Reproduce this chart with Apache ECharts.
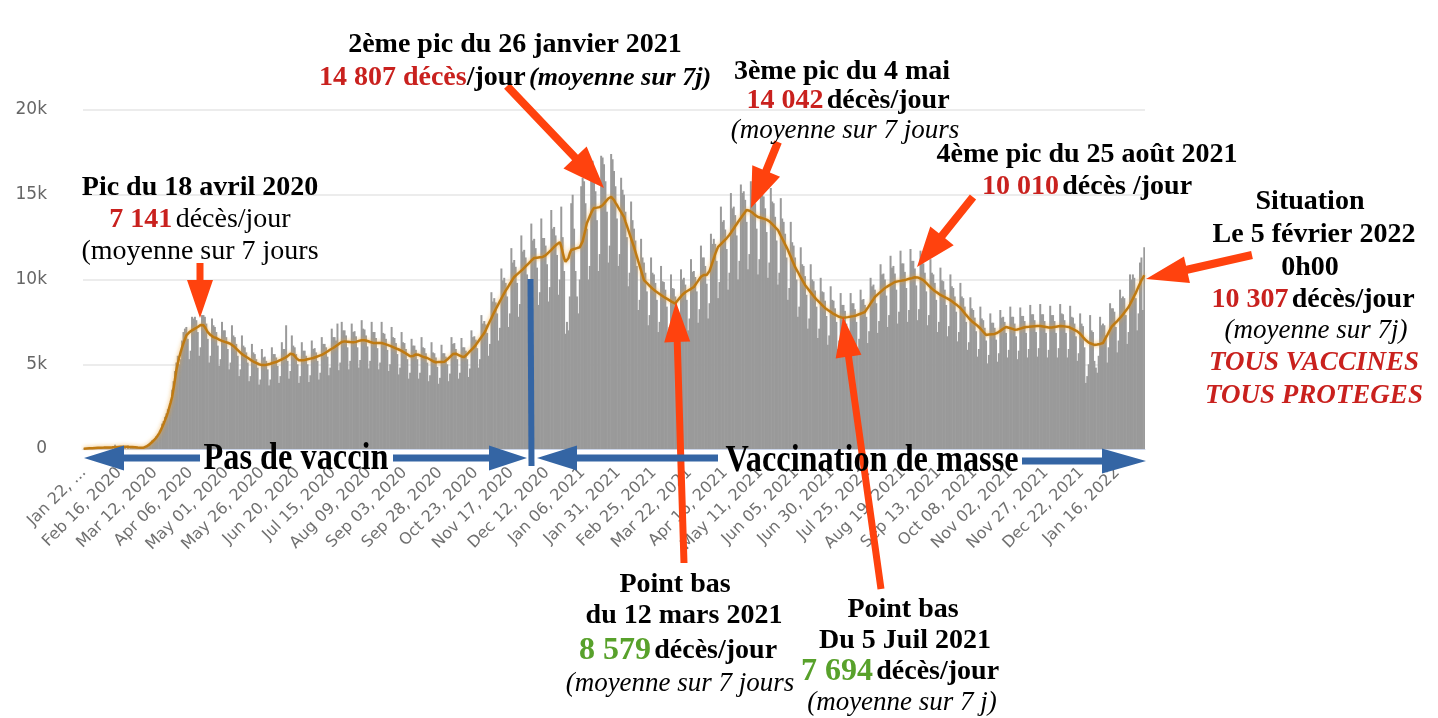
<!DOCTYPE html>
<html>
<head>
<meta charset="utf-8">
<script src="https://cdn.jsdelivr.net/npm/echarts@6/dist/echarts.min.js"></script>
<style>
  html, body { margin: 0; padding: 0; background: #fff; }
  #chart { width: 1438px; height: 718px; }
</style>
</head>
<body>
<div id="chart"></div>
<script>
// décès quotidiens dans le monde (22 janv. 2020 -> 4 févr. 2022)
const daily2020 = [
  17,1,8,16,14,26,49, 2,38,42,46,103,64,66, 72,70,85,87,100,107,100, 5,253,152,143,104,98,139,
  115,125,4,207,11,160,79, 62,44,56,64,57,68,73, 84,96,180,260,320,420,520, 560,650,760,880,900,1150,1500,
  1650,1900,2100,2350,2300,2700,3500, 4000,4600,5100,5500,5000,5300,6400, 6900,7100,7200,6500,5300,5800,7800,
  7700,7800,7600,6900,5500,6000,7900, 7900,7800,7400,6500,5100,5500,7700, 7300,7200,6900,6100,4900,5300,7500,
  7000,7000,6600,5900,4700,5100,7300, 6700,6600,6200,5500,4300,4700,6700, 6100,6000,5700,5100,4000,4300,6200,
  5700,5600,5300,4800,3800,4100,5900, 5400,5450,5200,4700,3750,4100,6000, 5600,5600,5400,4900,3900,4300,6300,
  5900,5900,7300,5200,4150,4600,6700, 6100,6000,5600,5000,3900,4300,6300, 5800,5800,5500,5000,3950,4350,6400,
  5900,5950,5700,5200,4100,4500,6600, 6200,6200,6000,5450,4350,4800,7100, 6600,6600,6400,7400,4650,5100,7500,
  7000,7000,6700,6000,4700,5200,7400, 6900,6950,6650,6000,4800,5250,7600, 7100,7050,6700,6050,4750,5200,7500,
  6900,6900,6550,5950,4700,5100,7500, 6850,6800,6500,5850,4600,5000,7200, 6600,6550,6250,5600,4400,4800,6900,
  6300,6250,5900,5300,4150,4500,6500, 6100,6100,5850,5300,4150,4500,6600, 6000,5950,5650,5100,4000,4350,6300,
  5700,5650,5400,4850,3850,4200,6150, 5650,5650,5450,5000,4000,4450,6600, 6200,6250,5900,5300,4150,4500,6550,
  6000,6000,5800,5300,4250,4750,7000, 6600,6650,6450,5950,4800,5300,7900, 7400,7550,7350,6850,5500,6200,9250,
  8700,8900,8650,8000,6400,7150,10650, 9950,10100,9800,9000,7200,8000,11850, 11000,11150,10750,9800,7800,8550,12600,
  11650,11750,11300,10300,8200,9000,13300, 12300,12400,11850,10700,8500,9250,13600, 12450,12450,12000,10900,8700,9550,14100,
  13000,13100,12600,11450,9100,10000,14300, 12500,10500,6800,7500,7000,9000,14500, 15000,13000
];
const daily2021 = [
  10500,9000,8000,10000,15500,
  16000,15800,14500,13000,10000,10800,16500, 17000,16400,15200,13500,10500,11500,17300, 17200,16800,15800,14000,11000,12000,17400,
  17100,16400,15500,13600,10800,11500,16000, 15300,15000,14000,12500,9600,10400,14600, 13500,13000,12300,10800,8200,8800,12400,
  11300,11000,10400,9300,7300,7900,11300, 10400,10300,9800,8800,6900,7500,10800, 9900,9850,9400,8400,6600,7200,10300,
  9500,9450,9000,8250,6500,7300,10600, 10000,10100,9700,8800,7000,7700,11200, 10450,10500,10150,9300,7450,8250,12000,
  11300,11300,10800,9750,7700,8600,12700, 12100,12400,12100,11100,8900,9850,14300, 13400,13500,12950,11800,9400,10400,15100,
  14200,14300,13800,12600,10000,11100,15600, 15100,15200,14700,13400,10600,11500,15800, 15300,15200,14500,13000,10300,11200,15600,
  15000,14900,14200,12800,10100,11000,15400, 14600,14500,13700,12300,9700,10400,14800, 13600,13400,12700,11300,8800,9500,13400,
  12200,12000,11300,10000,7800,8400,11900, 10900,10800,10200,9100,7100,7700,10900, 10000,9900,9350,8400,6550,7100,10100,
  9300,9250,8750,7850,6150,6700,9600, 8800,8750,8300,7500,5900,6400,9200, 8500,8500,8150,7400,5850,6400,9200,
  8600,8600,8250,7500,5950,6500,9400, 8800,8850,8500,7800,6250,6950,10100, 9600,9700,9400,8600,6850,7550,10900,
  10300,10350,10000,9050,7200,7900,11400, 10700,10800,10350,9400,7400,8100,11700, 10950,10950,10450,9500,7500,8200,11800,
  11100,11100,10650,9650,7600,8250,11700, 11000,10950,10400,9300,7300,7900,11200, 10400,10300,9800,8800,6900,7500,10700,
  9950,9900,9400,8500,6650,7250,10300, 9600,9500,9000,8100,6350,6900,9800, 9000,8900,8400,7500,5850,6300,8950,
  8300,8200,7750,6950,5450,5900,8400, 7700,7600,7150,6400,5050,5550,8000, 7450,7450,7150,6450,5150,5650,8200,
  7750,7800,7500,6850,5400,5850,8400, 7800,7800,7400,6650,5300,5800,8350, 7850,7850,7550,6850,5400,5900,8500,
  7950,7950,7600,6900,5450,5950,8550, 7950,7950,7550,6850,5400,5850,8450, 7900,7900,7550,6850,5400,5950,8550,
  8000,7950,7600,6850,5400,5900,8450, 7800,7750,7400,6650,5200,5650,8000, 7400,7250,6000,3900,4300,5000,7900,
  7000,6900,5200
];
const daily2022 = [
  4800,4500,5500,7800, 7300,7400,7300,6700,5100,6000,8600, 8300,8300,8100,7200,5700,6400,9400,
  8900,9000,8900,7900,6200,6900,10300, 10000,10300,10100,8900,7000,8000,11000, 11300,8200,11900
];

// moyenne sur 7 jours (courbe orange)
const avg2020 = [
  20,25,30,35,40,45,50, 55,60,65,70,75,78,80, 82,85,88,90,92,95,98, 100,110,120,125,130,132,135,
  135,135,130,125,120,118,115, 110,100,90,85,80,75,75, 80,100,150,200,260,330,410, 500,580,680,800,940,1100,1280,
  1480,1690,1900,2150,2450,2750,3070, 3550,4100,4660,5050,5400,5720,6000, 6250,6480,6700,6800,6880,6950,7000,
  7050,7100,7150,7200,7250,7320,7350, 7300,7180,7050,6900,6800,6720,6650, 6600,6580,6550,6500,6450,6420,6380,
  6350,6320,6290,6270,6250,6200,6140, 6080,6000,5920,5840,5760,5680,5600, 5540,5490,5450,5380,5320,5260,5200,
  5160,5130,5080,5040,5000,4970,4950, 4940,4950,4970,4990,5010,5030,5060, 5090,5110,5130,5170,5210,5250,5290,
  5330,5370,5420,5480,5540,5620,5660, 5580,5480,5380,5300,5230,5220,5230, 5240,5250,5270,5290,5310,5330,5350,
  5370,5400,5430,5460,5490,5520,5550, 5600,5650,5700,5750,5810,5870,5920, 5960,6020,6080,6140,6200,6260,6310,
  6350,6350,6340,6330,6320,6310,6300, 6300,6300,6320,6350,6380,6400,6420, 6430,6420,6400,6370,6340,6310,6280,
  6260,6250,6250,6250,6250,6250,6250, 6240,6200,6170,6140,6110,6080,6040, 6010,5970,5940,5900,5870,5840,5790,
  5740,5690,5630,5580,5520,5470,5430, 5480,5540,5580,5600,5560,5520,5480, 5440,5410,5390,5370,5320,5280,5230,
  5180,5130,5120,5120,5130,5130,5130, 5130,5140,5200,5280,5360,5440,5530, 5600,5660,5620,5580,5540,5500,5460,
  5440,5430,5500,5590,5680,5770,5860, 5940,6020,6130,6250,6370,6490,6610, 6720,6840,7010,7190,7370,7550,7720,
  7900,8080,8240,8400,8560,8720,8880, 9040,9200,9340,9470,9610,9750,9880, 10020,10150,10230,10300,10380,10450,10530,
  10600,10680,10770,10850,10940,11020,11110, 11190,11270,11280,11290,11300,11310,11320, 11330,11330,11420,11500,11590,11670,11750,
  11840,11920,12000,12080,12150,12200,11950, 11600,11250,11050,10970,11250,11550,11740, 11770,11800
];
const avg2021 = [
  11820,11850,11880,11900,11920,
  12250,12600,12950,13330,13530,13730,13930, 14100,14220,14230,14240,14250,14270,14280, 14380,14480,14580,14680,14780,14850,14870,
  14800,14690,14540,14400,14250,14110,13970, 13830,13690,13430,13180,12930,12680,12420, 12170,11920,11640,11360,11080,10800,10530,
  10250,9970,9880,9800,9710,9630,9550, 9460,9380,9320,9260,9200,9150,9090, 9030,8970,8920,8870,8820,8770,8710,
  8660,8600,8580,8700,8800,8900,9000, 9100,9200,9250,9300,9350,9400,9450, 9500,9560,9680,9800,9920,10040,10160,
  10270,10270,10270,10270,10270,10500,10750, 11000,11250,11500,11720,11920,12010,12090, 12180,12260,12340,12430,12510,12640,12760,
  12890,13010,13140,13260,13390,13510,13630, 13750,13860,13980,14100,14100,14060,14040, 13950,13880,13800,13740,13690,13660,13640,
  13610,13590,13560,13530,13510,13430,13340, 13260,13170,13090,13000,12920,12750,12580, 12420,12250,12080,11910,11740,11540,11340,
  11140,10940,10740,10590,10440,10280,10130, 9980,9830,9680,9570,9460,9350,9240, 9130,9020,8910,8830,8740,8660,8580,
  8490,8410,8320,8260,8200,8150,8090, 8030,7970,7910,7880,7850,7800,7770, 7750,7750,7760,7770,7780,7790,7810,
  7820,7840,7850,7880,7920,7950,7980, 8020,8050,8080,8210,8330,8460,8590, 8720,8840,8970,9050,9120,9200,9270,
  9350,9420,9500,9550,9600,9650,9700, 9750,9800,9850,9870,9890,9900,9920, 9940,9950,9970,9990,10010,10040,10060,
  10080,10100,10130,10150,10120,10090,10050, 10010,9970,9890,9800,9720,9630,9550, 9460,9380,9320,9260,9210,9150,9090,
  9050,9000,8960,8920,8880,8830,8790, 8720,8660,8590,8520,8460,8390,8320, 8220,8120,8020,7910,7810,7710,7610,
  7540,7470,7400,7340,7270,7200,7110, 7010,6920,6830,6730,6740,6750,6760, 6770,6780,6790,6800,6860,6910,6970,
  7030,7090,7140,7200,7170,7150,7120, 7100,7070,7040,7020,7050,7070,7100, 7120,7150,7180,7200,7210,7210,7220,
  7230,7230,7240,7240,7250,7260,7260, 7240,7230,7210,7200,7180,7170,7150, 7170,7180,7200,7210,7230,7240,7260,
  7250,7240,7230,7220,7210,7200,7160, 7110,7070,7030,6990,6940,6900,6800, 6700,6600,6500,6410,6310,6280,6240,
  6210,6180,6140
];
const avg2022 = [
  6140,6160,6180,6200, 6230,6250,6410,6570,6720,6880,7040, 7200,7290,7380,7460,7550,7640,7730,
  7840,7940,8050,8160,8270,8380,8540, 8710,8870,9040,9200,9390,9580,9770, 9960,10100,10250
];

const dailyDeaths = daily2020.concat(daily2021, daily2022);
const avgDeaths = avg2020.concat(avg2021, avg2022);

const monthNames = ['Jan','Feb','Mar','Apr','May','Jun','Jul','Aug','Sep','Oct','Nov','Dec'];
const firstDay = Date.UTC(2020, 0, 22);
const dates = [];
for (let i = 0; i < dailyDeaths.length; i++) {
  const d = new Date(firstDay + i * 86400000);
  dates.push(monthNames[d.getUTCMonth()] + ' ' + String(d.getUTCDate()).padStart(2, '0') + ', ' + d.getUTCFullYear());
}
const yTicks = { 0: '0', 5000: '5k', 10000: '10k', 15000: '15k', 20000: '20k' };

const RED = '#c9211e', GREEN = '#58a12b', ORANGE = '#ff420e', BLUE = '#3465a4';
const SERIF = 'Liberation Serif';

const rich = {
  b:  { fontFamily: SERIF, fontSize: 28, fontWeight: 'bold', fill: '#000' },
  n:  { fontFamily: SERIF, fontSize: 28, fill: '#000' },
  r:  { fontFamily: SERIF, fontSize: 28, fontWeight: 'bold', fill: RED },
  g:  { fontFamily: SERIF, fontSize: 32, fontWeight: 'bold', fill: GREEN },
  i:  { fontFamily: SERIF, fontSize: 27, fontStyle: 'italic', fill: '#000' },
  bi: { fontFamily: SERIF, fontSize: 26, fontStyle: 'italic', fontWeight: 'bold', fill: '#000' },
  ri: { fontFamily: SERIF, fontSize: 27, fontStyle: 'italic', fontWeight: 'bold', fill: RED },
  big:{ fontFamily: SERIF, fontSize: 38, fontWeight: 'bold', fill: '#000' }
};

function label(x, y, text, sx) {
  return {
    type: 'text', x: x, y: y, z: 100, scaleX: sx || 1,
    style: { text: text, rich: rich, align: 'center', verticalAlign: 'middle' }
  };
}

// flèche pleine (polygone) de (x1,y1) vers la pointe (x2,y2)
function arrow(x1, y1, x2, y2, w, hw, hl, color) {
  const len = Math.hypot(x2 - x1, y2 - y1);
  const ux = (x2 - x1) / len, uy = (y2 - y1) / len;
  const nx = -uy, ny = ux;
  const bx = x2 - ux * hl, by = y2 - uy * hl;
  return {
    type: 'polygon', z: 90,
    shape: { points: [
      [x1 + nx * w / 2, y1 + ny * w / 2],
      [bx + nx * w / 2, by + ny * w / 2],
      [bx + nx * hw / 2, by + ny * hw / 2],
      [x2, y2],
      [bx - nx * hw / 2, by - ny * hw / 2],
      [bx - nx * w / 2, by - ny * w / 2],
      [x1 - nx * w / 2, y1 - ny * w / 2]
    ] },
    style: { fill: color }
  };
}

const annotations = [
  label(200, 188, '{b|Pic du 18 avril 2020}'),
  label(200, 220, '{r|7 141} {n|décès/jour}'),
  label(200, 252, '{n|(moyenne sur 7 jours}'),

  label(515, 45, '{b|2ème pic du 26 janvier 2021}'),
  label(515, 78, '{r|14 807 décès}{b|/jour} {bi|(moyenne sur 7j)}'),

  label(842, 72, '{b|3ème pic du 4 mai}'),
  label(848, 101, '{r|14 042} {b|décès/jour}'),
  label(845, 131, '{i|(moyenne sur 7 jours}'),

  label(1087, 155, '{b|4ème pic du 25 août 2021}'),
  label(1087, 187, '{r|10 010} {b|décès /jour}'),

  label(1310, 202, '{b|Situation}'),
  label(1314, 235, '{b|Le 5 février 2022}'),
  label(1310, 268, '{b|0h00}'),
  label(1313, 300, '{r|10 307} {b|décès/jour}'),
  label(1316, 331, '{i|(moyenne sur 7j)}'),
  label(1314, 363, '{ri|TOUS VACCINES}'),
  label(1314, 396, '{ri|TOUS PROTEGES}'),

  label(675, 585, '{b|Point bas}'),
  label(684, 616, '{b|du 12 mars 2021}'),
  label(678, 651, '{g|8 579} {b|décès/jour}'),
  label(680, 684, '{i|(moyenne sur 7 jours}'),

  label(903, 610, '{b|Point bas}'),
  label(905, 641, '{b|Du 5 Juil 2021}'),
  label(900, 672, '{g|7 694} {b|décès/jour}'),
  label(902, 703, '{i|(moyenne sur 7 j)}'),

  label(296, 459, '{big|Pas de vaccin}', 0.85),
  label(872, 461, '{big|Vaccination de masse}', 0.85),

  // flèches oranges
  arrow(200, 263, 200, 318, 7, 26, 38, ORANGE),
  arrow(507, 86, 604, 188, 8, 32, 42, ORANGE),
  arrow(778, 142, 751, 208, 8, 30, 40, ORANGE),
  arrow(973, 197, 917, 267, 8, 30, 40, ORANGE),
  arrow(1252, 255, 1146, 279, 8, 27, 42, ORANGE),
  arrow(684, 563, 676, 302, 7, 26, 40, ORANGE),
  arrow(881, 589, 843, 317, 7, 26, 40, ORANGE),

  // flèches bleues
  arrow(200, 458, 84, 458, 7, 25, 40, BLUE),
  arrow(393, 458, 527, 458, 7, 25, 38, BLUE),
  { type: 'line', z: 90, shape: { x1: 530.5, y1: 279, x2: 531.5, y2: 466 }, style: { stroke: BLUE, lineWidth: 6 } },
  arrow(718, 458, 537, 458, 7, 25, 40, BLUE),
  arrow(1022, 461, 1146, 461, 7, 25, 44, BLUE)
];

const chart = echarts.init(document.getElementById('chart'));
const option = {
  backgroundColor: '#fff',
  animation: false,
  grid: { left: 83, right: 293, top: 110, bottom: 269, containLabel: false, outerBoundsMode: 'none' },
  xAxis: {
    type: 'category',
    data: dates,
    boundaryGap: true,
    axisLine: { lineStyle: { color: '#ccd6eb', width: 1 } },
    axisTick: { show: false },
    axisLabel: {
      interval: 24,
      rotate: 45,
      color: '#707070',
      fontFamily: 'DejaVu Sans',
      fontSize: 16,
      margin: 21,
      formatter: function (v, i) { return i === 0 ? 'Jan 22, ...' : v; }
    },
    splitLine: { show: false }
  },
  yAxis: {
    type: 'value',
    min: 0, max: 20000, interval: 5000,
    axisLine: { show: false },
    axisTick: { show: false },
    axisLabel: {
      color: '#666', fontFamily: 'DejaVu Sans', fontSize: 17, margin: 36,
      formatter: function (v) { return yTicks[v]; }
    },
    splitLine: { lineStyle: { color: '#e6e6e6', width: 1.5 } }
  },
  series: [
    {
      name: 'Décès quotidiens',
      type: 'bar',
      data: dailyDeaths,
      barWidth: 2,
      barGap: '-100%',
      itemStyle: { color: '#9a9a9a' }
    },
    {
      name: 'Moyenne sur 7 jours',
      type: 'line',
      data: avgDeaths,
      showSymbol: false,
      smooth: false,
      lineStyle: { color: '#bf7a12', width: 2.5, shadowBlur: 4, shadowColor: 'rgba(235,160,50,0.8)' },
      z: 5
    }
  ],
  graphic: annotations
};
chart.setOption(option);
</script>
</body>
</html>
